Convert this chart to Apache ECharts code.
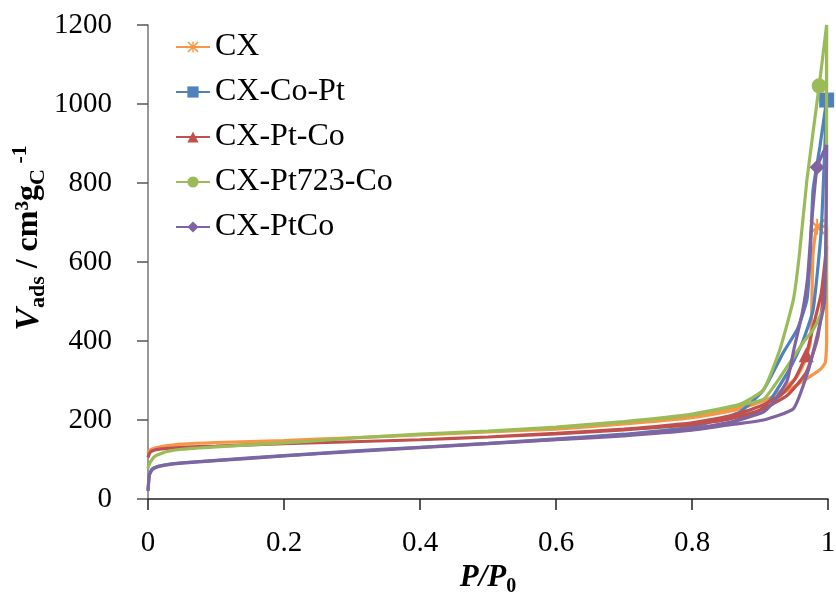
<!DOCTYPE html>
<html>
<head>
  <meta charset="UTF-8">
  <title>N2 isotherms</title>
  <style>
    * { margin: 0; padding: 0; }
    html, body { width: 100%; height: 100%; background: #fff; }
    #chart { width: 836px; height: 597px; }
  </style>
  <script src="https://cdn.jsdelivr.net/npm/echarts@6/dist/echarts.min.js"></script>
</head>
<body>
  <div id="chart"></div>
  <script>
    // series names
    var names = ['CX', 'CX-Co-Pt', 'CX-Pt-Co', 'CX-Pt723-Co', 'CX-PtCo'];

    // CX : adsorption then desorption branch
    var cxP = [0, 0.003, 0.01, 0.02, 0.05, 0.1, 0.2, 0.3, 0.4, 0.5, 0.6, 0.7, 0.8, 0.856, 0.9, 0.934, 0.96, 0.988, 0.996, 0.998, 0.998,
               0.996, 0.984, 0.978, 0.976, 0.974, 0.965, 0.954, 0.935, 0.915, 0.9, 0.85, 0.8, 0.7, 0.6, 0.5];
    var cxV = [115, 124, 129, 133, 139, 143, 148, 155, 162, 170, 177, 190, 206, 222, 245, 268, 295, 327, 345, 400, 690,
               690, 689, 620, 480, 395, 345, 309, 280, 256, 246, 226, 210, 192, 178, 170];

    // CX-Co-Pt
    var coptP = [0, 0.002, 0.006, 0.015, 0.03, 0.06, 0.1, 0.2, 0.3, 0.4, 0.5, 0.6, 0.7, 0.8, 0.856, 0.9, 0.915, 0.944, 0.962, 0.978, 0.99, 0.998,
                 0.988, 0.978, 0.974, 0.969, 0.955, 0.934, 0.905, 0.87, 0.8, 0.7, 0.6, 0.5];
    var coptV = [22, 62, 76, 83, 88, 93, 98, 110, 121, 131, 141, 151, 162, 177, 193, 225, 250, 330, 395, 478, 680, 1010,
                 891, 782, 620, 504, 430, 370, 276, 220, 182, 164, 152, 141];

    // CX-Pt-Co
    var ptcoP = [0, 0.003, 0.01, 0.02, 0.05, 0.1, 0.2, 0.3, 0.4, 0.5, 0.6, 0.7, 0.8, 0.856, 0.9, 0.94, 0.968, 0.985, 0.995, 0.998,
                 0.99, 0.978, 0.968, 0.95, 0.93, 0.9, 0.86, 0.8, 0.7, 0.6, 0.5];
    var ptcoV = [105, 118, 124, 127, 131, 134, 140, 145, 150, 157, 165, 175, 188, 203, 225, 262, 320, 410, 540, 640,
                 520, 435, 365, 300, 262, 235, 212, 193, 177, 166, 157];

    // CX-Pt723-Co
    var pt723P = [0, 0.003, 0.01, 0.025, 0.05, 0.1, 0.2, 0.3, 0.4, 0.5, 0.6, 0.7, 0.8, 0.856, 0.905, 0.93, 0.963, 0.978, 0.99, 0.997, 0.998,
                  0.987, 0.969, 0.958, 0.949, 0.929, 0.905, 0.87, 0.8, 0.7, 0.6, 0.5];
    var pt723V = [78, 92, 108, 119, 126, 132, 142, 154, 164, 172, 181, 195, 213, 233, 252, 309, 395, 428, 470, 510, 1200,
                  1046, 808, 620, 504, 377, 276, 240, 215, 196, 182, 172];

    // CX-PtCo
    var ptcoAlloyP = [0, 0.002, 0.006, 0.015, 0.03, 0.06, 0.1, 0.2, 0.3, 0.4, 0.5, 0.6, 0.7, 0.8, 0.856, 0.905, 0.949, 0.97, 0.985, 0.995, 0.998,
                      0.984, 0.976, 0.97, 0.962, 0.95, 0.94, 0.92, 0.905, 0.856, 0.8, 0.7, 0.6, 0.5];
    var ptcoAlloyV = [20, 60, 74, 82, 87, 92, 97, 109, 120, 130, 140, 150, 160, 174, 188, 200, 228, 320, 420, 500, 896,
                      840, 700, 560, 470, 380, 300, 245, 220, 194, 178, 162, 151, 140];

    // index of the single marker drawn on each curve
    var markerIdx = [22, 21, 22, 21, 21];

    var xTicks = [0, 0.2, 0.4, 0.6, 0.8, 1];

    var colors = ['#F79646', '#4F81BD', '#C0504D', '#9BBB59', '#8064A2'];
    var symbols = [
      'path://M0,1L1,0L10,9L9,10Z M9,0L10,1L1,10L0,9Z M4.4,0H5.6V10H4.4Z',
      'rect', 'triangle', 'circle', 'diamond'
    ];
    var symbolSizes = [16, 15, 15, 15, 15];

    var pList = [cxP, coptP, ptcoP, pt723P, ptcoAlloyP];
    var vList = [cxV, coptV, ptcoV, pt723V, ptcoAlloyV];

    function buildData(P, V, mi) {
      return P.map(function (p, i) {
        var item = { value: [p, V[i]] };
        if (i !== mi) item.symbol = 'none';
        return item;
      });
    }

    var serif = 'Liberation Serif';
    var chart = echarts.init(document.getElementById('chart'));

    var series = names.map(function (n, k) {
      return {
        name: n,
        type: 'line',
        data: buildData(pList[k], vList[k], markerIdx[k]),
        symbol: symbols[k],
        symbolSize: symbolSizes[k],
        showSymbol: true,
        showAllSymbol: true,
        smooth: 0.15,
        color: colors[k],
        lineStyle: { width: 3.2, color: colors[k] },
        itemStyle: { color: colors[k] },
        z: 2 + k
      };
    });

    var option = {
      animation: false,
      backgroundColor: '#fff',
      grid: { left: 148, right: 8, top: 25, bottom: 98, outerBoundsMode: 'none', containLabel: false },
      legend: {
        orient: 'vertical',
        left: 170,
        top: 26,
        itemWidth: 34,
        itemHeight: 14,
        itemGap: 13,
        textStyle: { fontFamily: serif, fontSize: 32, color: '#000' },
        data: names
      },
      xAxis: {
        type: 'value',
        min: 0,
        max: 1,
        interval: 0.2,
        name: '{i|P/P}{s|0}',
        nameLocation: 'middle',
        nameGap: 54,
        nameTextStyle: {
          rich: {
            i: { fontFamily: serif, fontSize: 31, fontStyle: 'italic', fontWeight: 'bold', color: '#000', lineHeight: 40, verticalAlign: 'middle' },
            s: { fontFamily: serif, fontSize: 20, fontWeight: 'bold', color: '#000', lineHeight: 40, verticalAlign: 'bottom', padding: [0, 0, 2, 0] }
          }
        },
        axisLine: { lineStyle: { color: '#222', width: 1.5 } },
        axisTick: { length: 11, lineStyle: { color: '#222', width: 1.5 } },
        axisLabel: {
          margin: 30,
          fontFamily: serif, fontSize: 29, color: '#000',
          formatter: function (v) {
            var t = xTicks.find(function (x) { return Math.abs(x - v) < 1e-6; });
            return t === undefined ? '' : String(t);
          }
        },
        splitLine: { show: false }
      },
      yAxis: {
        type: 'value',
        min: 0,
        max: 1200,
        interval: 200,
        name: '{v|V}{s|ads}{t| / cm³g}{s|C}{p| -1}',
        nameLocation: 'middle',
        nameRotate: 90,
        nameGap: 95,
        nameMoveOverlap: false,
        nameTextStyle: {
          padding: [0, 0, 0, 48],
          rich: {
            v: { fontFamily: serif, fontSize: 34, fontStyle: 'italic', fontWeight: 'bold', color: '#000', lineHeight: 48 },
            t: { fontFamily: serif, fontSize: 32, fontWeight: 'bold', color: '#000', lineHeight: 48 },
            s: { fontFamily: serif, fontSize: 22, fontWeight: 'bold', color: '#000', lineHeight: 48, verticalAlign: 'bottom', padding: [0, 0, 4, 0] },
            p: { fontFamily: serif, fontSize: 22, fontWeight: 'bold', color: '#000', lineHeight: 48, verticalAlign: 'top', padding: [4, 0, 0, 0] }
          }
        },
        axisLine: { show: true, lineStyle: { color: '#777', width: 1.5 } },
        axisTick: { show: true, length: 11, lineStyle: { color: '#555', width: 1.5 } },
        axisLabel: {
          margin: 36, fontFamily: serif, fontSize: 29, color: '#000',
          formatter: function (v) { return String(v); }
        },
        splitLine: { show: false }
      },
      series: series
    };

    chart.setOption(option);
  </script>
</body>
</html>
